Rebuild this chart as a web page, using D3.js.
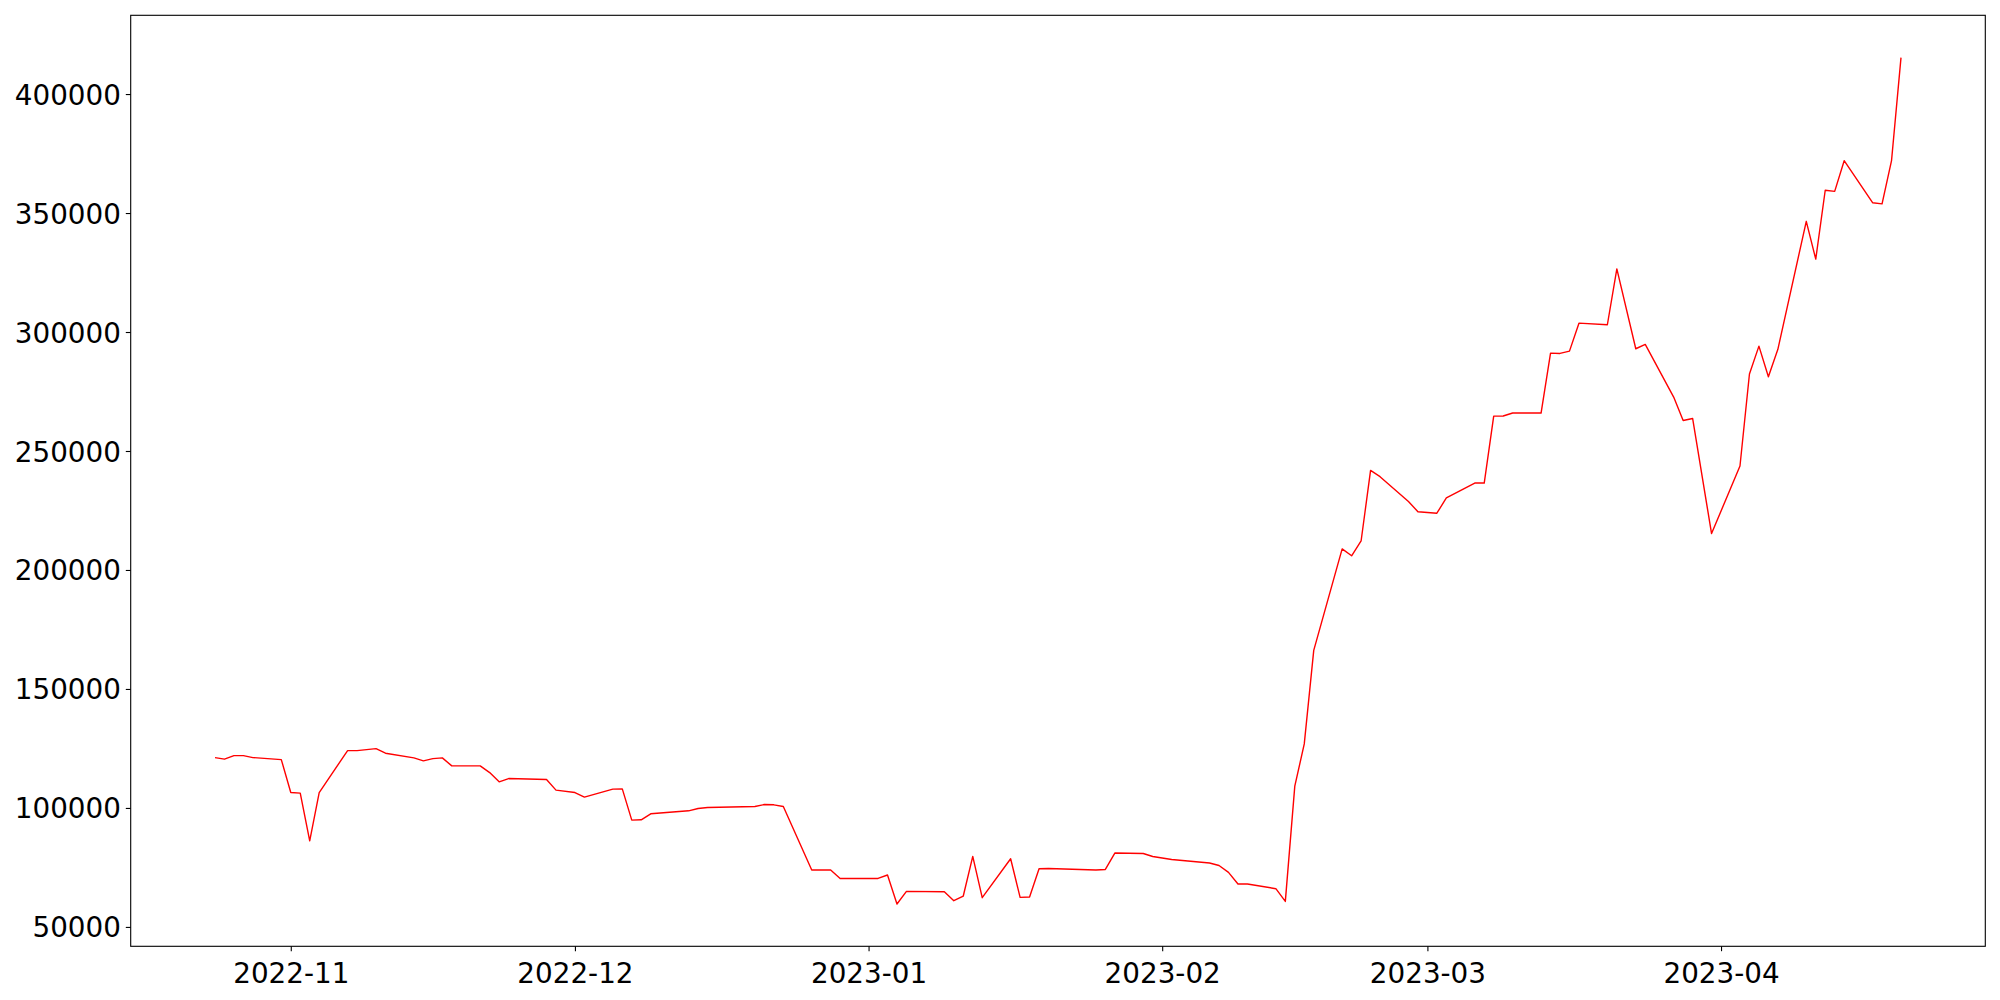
<!doctype html>
<html lang="en">
<head>
  <meta charset="utf-8">
  <title>Price line</title>
  <style>
    body { margin: 0; background: #fff; }
    #chart { width: 2000px; height: 1000px; }
    .tick text { font-family: "DejaVu Sans", sans-serif; font-size: 27.8px; fill: #000; }
    .series { fill: none; stroke: #ff0000; stroke-width: 1.4; stroke-linejoin: round; }
  </style>
</head>
<body>
  <div id="chart"></div>

  <script src="https://d3js.org/d3.v7.min.js"></script>
  <script>
// trading days (only the visible corners of the line)
const dates = [
  '2022-10-24', '2022-10-25', '2022-10-26', '2022-10-27', '2022-10-28', '2022-10-31',
  '2022-11-01', '2022-11-02', '2022-11-03', '2022-11-04', '2022-11-07', '2022-11-08',
  '2022-11-10', '2022-11-11', '2022-11-14', '2022-11-15', '2022-11-16', '2022-11-17',
  '2022-11-18', '2022-11-21', '2022-11-22', '2022-11-23', '2022-11-24', '2022-11-28',
  '2022-11-29', '2022-12-01', '2022-12-02', '2022-12-05', '2022-12-06', '2022-12-07',
  '2022-12-08', '2022-12-09', '2022-12-13', '2022-12-14', '2022-12-15', '2022-12-20',
  '2022-12-21', '2022-12-22', '2022-12-23', '2022-12-26', '2022-12-28', '2022-12-29',
  '2023-01-02', '2023-01-03', '2023-01-04', '2023-01-05', '2023-01-09', '2023-01-10',
  '2023-01-11', '2023-01-12', '2023-01-13', '2023-01-16', '2023-01-17', '2023-01-18',
  '2023-01-19', '2023-01-20', '2023-01-25', '2023-01-26', '2023-01-27', '2023-01-30',
  '2023-01-31', '2023-02-02', '2023-02-06', '2023-02-07', '2023-02-08', '2023-02-09',
  '2023-02-10', '2023-02-13', '2023-02-14', '2023-02-15', '2023-02-16', '2023-02-17',
  '2023-02-20', '2023-02-21', '2023-02-22', '2023-02-23', '2023-02-24', '2023-02-27',
  '2023-02-28', '2023-03-02', '2023-03-03', '2023-03-06', '2023-03-07', '2023-03-08',
  '2023-03-09', '2023-03-10', '2023-03-13', '2023-03-14', '2023-03-15', '2023-03-16',
  '2023-03-17', '2023-03-20', '2023-03-21', '2023-03-23', '2023-03-24', '2023-03-27',
  '2023-03-28', '2023-03-29', '2023-03-31', '2023-04-03', '2023-04-04', '2023-04-05',
  '2023-04-06', '2023-04-07', '2023-04-10', '2023-04-11', '2023-04-12', '2023-04-13',
  '2023-04-14', '2023-04-17', '2023-04-18', '2023-04-19', '2023-04-20'
];

const values = [
  121160, 120490, 122000, 122000, 121160, 120320,
  106470, 106220, 86200, 106470, 124100, 124100,
  124940, 123000, 121030, 119770, 120740, 121030,
  117680, 117680, 114860, 110960, 112350, 111930,
  107480, 106470, 104540, 107900, 108020, 94890,
  95010, 97530, 98790, 99760, 100170, 100590,
  101430, 101310, 100590, 73900, 73900, 70380,
  70380, 71810, 59640, 64920, 64800, 61020,
  62990, 79610, 62280, 78650, 62400, 62570,
  74450, 74580, 73900, 74160, 81040, 80870,
  79610, 78350, 76840, 75830, 72900, 68030,
  68030, 66060, 60730, 109160, 126910, 166230,
  208870, 205970, 212180, 241820, 239210, 228810,
  224480, 223850, 230310, 236530, 236530, 264650,
  264690, 265950, 265950, 291130, 291000, 291970,
  303720, 303050, 326550, 292970, 294780, 272660,
  262800, 263680, 215290, 243700, 282350, 294060,
  281180, 292720, 346520, 330620, 359570, 359110,
  371990, 354330, 353870, 371990, 415310
];

const yTicks = [50000, 100000, 150000, 200000, 250000, 300000, 350000, 400000];

const parseDate = d3.utcParse('%Y-%m-%d');
const series = dates.map((d, i) => ({ date: parseDate(d), value: values[i] }));

// plot box in page pixels
const W = 2000, H = 1000;
const margin = { left: 130.7, right: 2000 - 1985.3, top: 15.3, bottom: 1000 - 946.3 };
const innerW = W - margin.left - margin.right;
const innerH = H - margin.top - margin.bottom;

// matplotlib style 5% padding on both axes
const tExt = d3.extent(series, d => d.date);
const tPad = (tExt[1] - tExt[0]) * 0.05;
const vExt = d3.extent(series, d => d.value);
const vPad = (vExt[1] - vExt[0]) * 0.05;

const x = d3.scaleUtc()
  .domain([new Date(+tExt[0] - tPad), new Date(+tExt[1] + tPad)])
  .range([0, innerW]);

const y = d3.scaleLinear()
  .domain([vExt[0] - vPad, vExt[1] + vPad])
  .range([innerH, 0]);

const svg = d3.select('#chart')
  .append('svg')
  .attr('width', W)
  .attr('height', H);

const g = svg.append('g')
  .attr('transform', `translate(${margin.left},${margin.top})`);

// axes
const xAxis = d3.axisBottom(x)
  .ticks(d3.utcMonth.every(1))
  .tickFormat(d3.utcFormat('%Y-%m'))
  .tickSize(4.9)
  .tickPadding(4.9);

const yAxis = d3.axisLeft(y)
  .tickValues(yTicks)
  .tickFormat(d3.format('d'))
  .tickSize(4.9)
  .tickPadding(4.9);

const gx = g.append('g')
  .attr('transform', `translate(0,${innerH})`)
  .call(xAxis);
gx.select('.domain').remove();
gx.selectAll('.tick line').attr('stroke', '#000').attr('stroke-width', 1.1);
gx.selectAll('.tick text').attr('dy', '0.98em');

const gy = g.append('g').call(yAxis);
gy.select('.domain').remove();
gy.selectAll('.tick line').attr('stroke', '#000').attr('stroke-width', 1.1);
gy.selectAll('.tick text').attr('dy', '0.36em');

// the price line
const line = d3.line()
  .x(d => x(d.date))
  .y(d => y(d.value));

g.append('path')
  .datum(series)
  .attr('class', 'series')
  .attr('d', line);

// frame (all four spines)
g.append('rect')
  .attr('width', innerW)
  .attr('height', innerH)
  .attr('fill', 'none')
  .attr('stroke', '#000')
  .attr('stroke-width', 1.1);
  </script>
</body>
</html>
